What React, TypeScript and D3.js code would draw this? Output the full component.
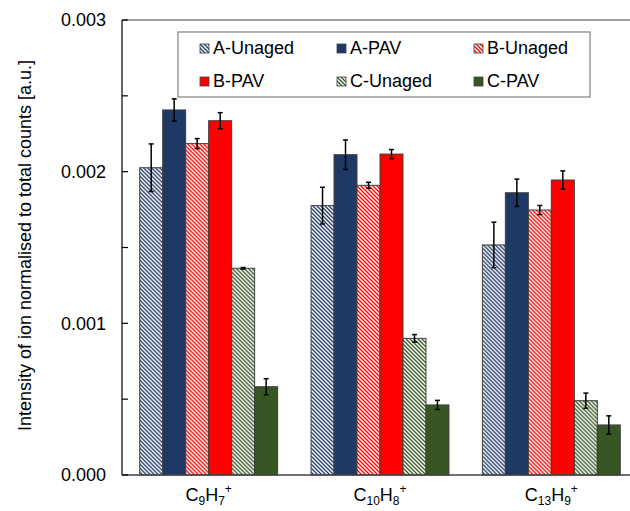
import React from "react";
import * as d3 from "d3";

const categories = ["C9H7+", "C10H8+", "C13H9+"];
const seriesNames = ["A-Unaged", "A-PAV", "B-Unaged", "B-PAV", "C-Unaged", "C-PAV"];

const aUnaged = [0.002026, 0.001776, 0.001517];
const aPAV = [0.002407, 0.002112, 0.001861];
const bUnaged = [0.002185, 0.00191, 0.001747];
const bPAV = [0.002336, 0.002116, 0.001945];
const cUnaged = [0.001363, 0.000901, 0.00049];
const cPAV = [0.000582, 0.000462, 0.00033];

const aUnagedErr = [0.000157, 0.000121, 0.00015];
const aPAVErr = [0.000073, 0.000097, 0.00009];
const bUnagedErr = [0.000033, 0.00002, 0.00003];
const bPAVErr = [0.000053, 0.00003, 0.00006];
const cUnagedErr = [0.000005, 0.000025, 0.00005];
const cPAVErr = [0.000053, 0.00003, 0.00006];

const yTickLabels = [0, 0.001, 0.002, 0.003];
const yMinorTicks = [0, 0.0005, 0.001, 0.0015, 0.002, 0.0025, 0.003];

const seriesValues = [aUnaged, aPAV, bUnaged, bPAV, cUnaged, cPAV];
const seriesErrors = [aUnagedErr, aPAVErr, bUnagedErr, bPAVErr, cUnagedErr, cPAVErr];

const NAVY = "#203864";
const RED = "#ff0000";
const GREEN = "#375623";
const seriesStyle = [
  { color: NAVY, hatch: true },
  { color: NAVY, hatch: false },
  { color: RED, hatch: true },
  { color: RED, hatch: false },
  { color: GREEN, hatch: true },
  { color: GREEN, hatch: false },
];

const FONT = "Liberation Sans, Arial, sans-serif";

function fillFor(i: number) {
  const s = seriesStyle[i];
  return s.hatch ? `url(#hatch${i})` : s.color;
}

function ChemLabel({ text, x, y }: { text: string; x: number; y: number }) {
  // parse digits -> subscript, + -> superscript
  const parts: { t: string; kind: string }[] = [];
  for (const ch of text) {
    const kind = /[0-9]/.test(ch) ? "sub" : ch === "+" ? "sup" : "norm";
    const last = parts[parts.length - 1];
    if (last && last.kind === kind) last.t += ch;
    else parts.push({ t: ch, kind });
  }
  let cur = 0;
  const spans = parts.map((p, i) => {
    const target = p.kind === "sub" ? 4 : p.kind === "sup" ? -8 : 0;
    const dy = target - cur;
    cur = target;
    return (
      <tspan key={i} dy={dy} fontSize={p.kind === "norm" ? 18 : 12}>
        {p.t}
      </tspan>
    );
  });
  return (
    <text x={x} y={y} textAnchor="middle" fontFamily={FONT} fontSize={18} fill="#000">
      {spans}
    </text>
  );
}

export default function App() {
  const W = 630;
  const H = 511;
  const left = 122;
  const right = 637;
  const top = 20;
  const bottom = 475;

  const x0 = d3
    .scaleBand<string>()
    .domain(categories)
    .range([123, 637])
    .paddingInner(0.195)
    .paddingOuter(0.0975);
  const x1 = d3
    .scaleBand<string>()
    .domain(seriesNames)
    .range([0, x0.bandwidth()])
    .padding(0);
  const y = d3.scaleLinear().domain([0, 0.003]).range([bottom, top]);
  const fmt = d3.format(".3f");

  const legendCols = [200, 337, 474];
  const legendRows = [44, 77];

  return (
    <svg
      width={W}
      height={H}
      style={{ position: "absolute", left: 0, top: 0, background: "#fff" }}
    >
      <defs>
        {seriesStyle.map((s, i) =>
          s.hatch ? (
            <pattern
              key={i}
              id={`hatch${i}`}
              patternUnits="userSpaceOnUse"
              width={4}
              height={4}
            >
              <rect width={4} height={4} fill="#fff" />
              <path
                d="M-1,-1 L5,5 M-1,3 L1,5 M3,-1 L5,1"
                stroke={s.color}
                strokeWidth={1.3}
              />
            </pattern>
          ) : null
        )}
      </defs>
      <rect width={W} height={H} fill="#fff" />

      {/* plot frame top */}
      <line x1={left} x2={right} y1={top} y2={top} stroke="#7f7f7f" strokeWidth={1.5} />

      {/* bars */}
      {categories.map((c, ci) => (
        <g key={c} transform={`translate(${x0(c)},0)`}>
          {seriesNames.map((s, si) => {
            const v = seriesValues[si][ci];
            const e = seriesErrors[si][ci];
            const bx = x1(s)!;
            const bw = x1.bandwidth();
            const cx = bx + bw / 2;
            return (
              <g key={s}>
                <rect
                  x={bx}
                  y={y(v)}
                  width={bw}
                  height={y(0) - y(v)}
                  fill={fillFor(si)}
                  stroke="#404040"
                  strokeWidth={1}
                />
                <line x1={cx} x2={cx} y1={y(v + e)} y2={y(v - e)} stroke="#000" strokeWidth={1.5} />
                <line x1={cx - 2.5} x2={cx + 2.5} y1={y(v + e)} y2={y(v + e)} stroke="#000" strokeWidth={1.5} />
                <line x1={cx - 2.5} x2={cx + 2.5} y1={y(v - e)} y2={y(v - e)} stroke="#000" strokeWidth={1.5} />
              </g>
            );
          })}
        </g>
      ))}

      {/* axes */}
      <line x1={left} x2={right} y1={bottom} y2={bottom} stroke="#404040" strokeWidth={1.5} />
      <line x1={left} x2={left} y1={top} y2={bottom} stroke="#000" strokeWidth={1.2} />
      {yMinorTicks.map((t) => (
        <line key={t} x1={left} x2={left + 6} y1={y(t)} y2={y(t)} stroke="#000" strokeWidth={1.2} />
      ))}
      {yTickLabels.map((t) => (
        <text
          key={t}
          x={106}
          y={y(t)}
          dy="0.36em"
          textAnchor="end"
          fontFamily={FONT}
          fontSize={18}
          fill="#000"
        >
          {fmt(t)}
        </text>
      ))}

      {/* x labels */}
      {categories.map((c) => (
        <ChemLabel key={c} text={c} x={x0(c)! + x0.bandwidth() / 2} y={501} />
      ))}

      {/* y title */}
      <text
        transform={`translate(31,245.5) rotate(-90)`}
        textAnchor="middle"
        fontFamily={FONT}
        fontSize={18}
        fill="#000"
      >
        Intensity of ion normalised to total counts [a.u.]
      </text>

      {/* legend */}
      <rect x={178} y={32} width={412} height={65} fill="#fff" stroke="#7f7f7f" strokeWidth={1.2} />
      {seriesNames.map((s, i) => {
        const lx = legendCols[i % 3];
        const ly = legendRows[Math.floor(i / 3)];
        return (
          <g key={s}>
            <rect x={lx} y={ly} width={9} height={9} fill={fillFor(i)} stroke="#404040" strokeWidth={0.8} />
            <text x={lx + 13} y={ly + 9.5} fontFamily={FONT} fontSize={18} fill="#000">
              {s}
            </text>
          </g>
        );
      })}
    </svg>
  );
}
